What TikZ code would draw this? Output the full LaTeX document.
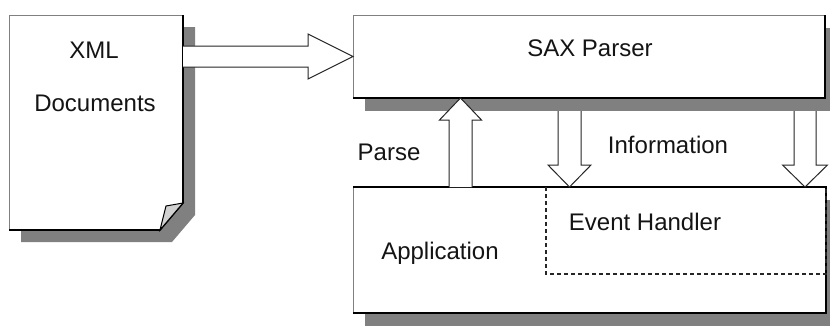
\documentclass[tikz,border=0pt]{standalone}
\usepackage{fontspec}
\setmainfont{Liberation Sans}
\usetikzlibrary{calc}

\definecolor{shadowgray}{RGB}{128,128,128}
\definecolor{inkcolor}{RGB}{20,20,20}

% Block arrow from #1 to the tip #2: shaft half-width #3, head half-width #4, head length #5
\newcommand{\fatarrow}[5]{%
  \draw[fatarrowstyle] let \p1=(#1), \p2=(#2),
      \n1={atan2(\y2-\y1,\x2-\x1)}, \n2={veclen(\x2-\x1,\y2-\y1)} in
    [shift={(\p1)}, rotate=\n1]
    (0,-#3) -- (\n2-#5,-#3) -- (\n2-#5,-#4) -- (\n2,0) -- (\n2-#5,#4) -- (\n2-#5,#3) -- (0,#3);
}

\tikzset{
  boxnode/.style={rectangle, inner sep=0pt, outer sep=0pt},
  txt/.style={inner sep=0pt, text=inkcolor, font=\fontsize{24}{28}\selectfont},
  lightedge/.style={draw=black!50, line width=0.8pt},
  darkedge/.style={draw=black, line width=1.6pt},
  dashedge/.style={draw=black!85, line width=1.2pt, dash pattern=on 4pt off 3pt},
  fatarrowstyle/.style={draw=black!85, fill=white, line width=1pt, line join=miter},
  shadowfill/.style={fill=shadowgray},
}

\begin{document}
\begin{tikzpicture}[x=1pt, y=-1pt]
  \fill[white] (0,0) rectangle (830,327);
  \useasboundingbox (0,0) rectangle (830,327);

  % frames of the three blocks and the event-handler region
  \node[boxnode, minimum width=174pt, minimum height=215pt] (doc) at (96,122.5) {};
  \node[boxnode, minimum width=472pt, minimum height=83pt] (sax) at (589,56.5) {};
  \node[boxnode, minimum width=473pt, minimum height=126pt] (app) at (589.5,250) {};
  \node[boxnode, minimum width=280pt, minimum height=87pt] (eh) at (686,230.5) {};

  % drop shadows
  \fill[shadowfill] ([shift={(12pt,-12pt)}]doc.north west) -- ([shift={(12pt,-12pt)}]doc.north east)
    -- ([shift={(12pt,15pt)}]doc.south east) -- ([shift={(-11pt,-12pt)}]doc.south east)
    -- ([shift={(12pt,-12pt)}]doc.south west) -- cycle;
  \fill[shadowfill] ([shift={(12pt,-13pt)}]sax.north west) rectangle ([shift={(12pt,-13pt)}]sax.south east);
  \fill[shadowfill] ([shift={(12pt,-13pt)}]app.north west) rectangle ([shift={(12pt,-13pt)}]app.south east);

  % XML document page with folded corner
  \fill[white] (doc.north west) -- (doc.north east) -- ([yshift=27pt]doc.south east)
    -- ([xshift=-23pt]doc.south east) -- (doc.south west) -- cycle;
  \draw[lightedge] (doc.south west) -- (doc.north west) -- (doc.north east);
  \draw[darkedge, line join=miter] (doc.north east) -- ([yshift=27pt]doc.south east)
    -- ([xshift=-23pt]doc.south east) -- (doc.south west);
  \draw[fill=black!18, draw=black, line width=1pt] ([yshift=27pt]doc.south east)
    -- ([shift={(-17pt,24pt)}]doc.south east) -- ([xshift=-23pt]doc.south east) -- cycle;

  % SAX parser block
  \fill[white] (sax.north west) rectangle (sax.south east);
  \draw[lightedge] (sax.south west) -- (sax.north west) -- (sax.north east);
  \draw[darkedge] (sax.north east) -- (sax.south east) -- (sax.south west);

  % application block
  \fill[white] (app.north west) rectangle (app.south east);
  \draw[lightedge] (app.south west) -- (app.north west);
  \draw[darkedge] (app.north west) -- (app.north east) -- (app.south east) -- (app.south west);

  % event handler region inside the application
  \draw[dashedge] (eh.north west) -- (eh.south west) -- (eh.south east) -- (eh.north east);

  % block arrows
  \coordinate (saxbase) at ([yshift=-13pt]sax.south);
  \coordinate (parsefoot) at ([xshift=107.5pt]app.north west);
  \coordinate (info1) at ([xshift=23.5pt]eh.north west);
  \coordinate (info2) at ([xshift=-21pt]eh.north east);

  \fatarrow{doc.east |- sax.west}{sax.west}{10.5}{22.5}{45}
  \fatarrow{parsefoot}{parsefoot |- sax.south}{11.5}{21}{22}
  \fatarrow{info1 |- saxbase}{info1}{11.5}{21.5}{22}
  \fatarrow{info2 |- saxbase}{info2}{11}{22.5}{22}

  % texts
  \node[txt] (xmllbl) at (94,50) {XML};
  \node[txt] (docslbl) at (95,103) {Documents};
  \node[txt] (saxlbl) at (590,48) {SAX Parser};
  \node[txt] (parselbl) at (389,152) {Parse};
  \node[txt] (infolbl) at (668,145) {Information};
  \node[txt] (ehlbl) at (645,222) {Event Handler};
  \node[txt] (applbl) at (440,253) {Application};
\end{tikzpicture}
\end{document}
